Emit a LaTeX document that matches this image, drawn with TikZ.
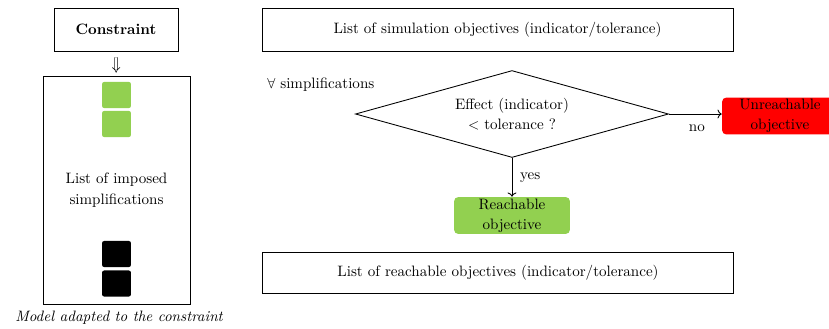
\documentclass[tikz,border=0pt]{standalone}
\usepackage{amsmath,amssymb}
\usepackage{xcolor}
\usetikzlibrary{shapes.geometric,arrows.meta,positioning}

\definecolor{okgreen}{RGB}{146,208,80}
\definecolor{nogored}{RGB}{255,0,0}

\begin{document}
\begin{tikzpicture}[x=0.69pt,y=-0.69pt,
    every node/.style={font=\fontsize{10.4}{14}\selectfont, align=center},
    listbox/.style={draw, line width=0.6pt, inner sep=0pt},
    simpsq/.style={rounded corners=1.5pt, inner sep=0pt, minimum width=20pt, minimum height=18pt},
    resultbox/.style={rounded corners=3pt, inner sep=0pt, minimum width=80pt, minimum height=25.5pt},
    flow/.style={line width=0.6pt, ->}]
      \useasboundingbox (0,0) rectangle (829,328);

      % Left column: constraint and model
      \node[listbox, minimum width=85.6pt, minimum height=29.7pt, font=\fontsize{10.4}{14}\selectfont\bfseries] (constraint) at (116,29.5) {Constraint};
      \node[listbox, minimum width=101.4pt, minimum height=157.3pt] (model) at (116.5,190) {List of imposed\\simplifications};
      \draw[double, double distance=1.6pt, -{Implies}, shorten <=4pt, shorten >=2pt] (constraint) -- (model);

      % Simplification blocks
      \node[simpsq, fill=okgreen] (gsqa) at (116.5,95) {};
      \node[simpsq, fill=okgreen] (gsqb) at (116.5,124) {};
      \node[simpsq, fill=black] (bsqa) at (116.5,254) {};
      \node[simpsq, fill=black] (bsqb) at (116.5,283.5) {};

      \node[font=\fontsize{10.4}{14}\selectfont\itshape] (caption) at (119,318) {Model adapted to the constraint};

      % Right column: objectives
      \node[listbox, minimum width=325pt, minimum height=29.7pt] (simobj) at (497.5,29.5) {List of simulation objectives (indicator/tolerance)};
      \node[listbox, minimum width=325pt, minimum height=28.3pt] (reachlist) at (498,272.5) {List of reachable objectives (indicator/tolerance)};

      \node[anchor=west, inner sep=0pt] (forall) at (267,85) {$\forall$ simplifications};

      % Decision
      \node[draw, diamond, line width=0.6pt, aspect=3.6, inner sep=0pt, minimum width=216pt, minimum height=60pt] (test) at (512,114) {Effect (indicator)\\$<$ tolerance ?};

      \node[resultbox, fill=nogored] (unreach) at (780,116) {Unreachable\\objective};
      \node[resultbox, fill=okgreen] (reach) at (512,215.5) {Reachable\\objective};

      \draw[flow] (test.east) -- (test.east -| unreach.west) node[pos=0.53, below, yshift=-4pt] {no};
      \draw[flow] (test.south) -- (reach.north) node[midway, right, xshift=2pt] {yes};
    \end{tikzpicture}
\end{document}
